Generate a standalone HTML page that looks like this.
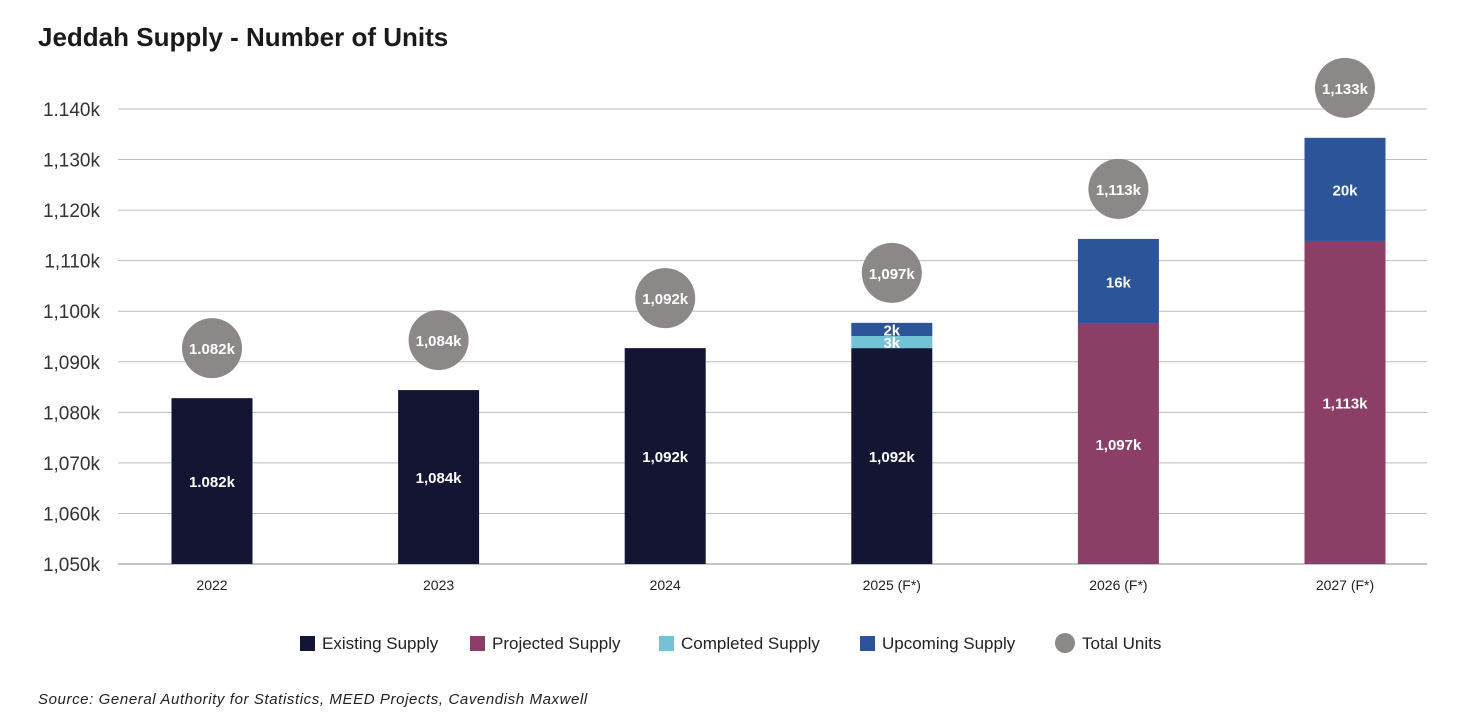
<!DOCTYPE html>
<html><head><meta charset="utf-8">
<style>
body{margin:0;background:#fff;font-family:"Liberation Sans",sans-serif;}
#wrap{position:relative;width:1466px;height:716px;overflow:hidden;}
</style></head>
<body>
<div id="wrap">
<svg id="chart" width="1466" height="716">
<text x="38" y="46" font-size="26" font-weight="bold" fill="#1a1a1a">Jeddah Supply - Number of Units</text>
<text x="38" y="704" font-size="15" font-style="italic" fill="#222" letter-spacing="0.6">Source: General Authority for Statistics, MEED Projects, Cavendish Maxwell</text>
</svg>
</div>
<script>
const categories=["2022","2023","2024","2025 (F*)","2026 (F*)","2027 (F*)"];
const existing=[1082.8,1084.4,1092.7,1092.7,0,0];
const projected=[0,0,0,0,1097.5,1113.9];
const completed=[0,0,0,2.4,0,0];
const upcoming=[0,0,0,2.6,16.8,20.4];
const existingLabels=["1.082k","1,084k","1,092k","1,092k","",""];
const projectedLabels=["","","","","1,097k","1,113k"];
const completedLabels=["","","","3k","",""];
const upcomingLabels=["","","","2k","16k","20k"];
const totalLabels=["1.082k","1,084k","1,092k","1,097k","1,113k","1,133k"];
const yTicks=[1050,1060,1070,1080,1090,1100,1110,1120,1130,1140];
const yTickLabels=["1,050k","1,060k","1,070k","1,080k","1,090k","1,100k","1,110k","1,120k","1,130k","1.140k"];
const colors={existing:"#141433",projected:"#8b3f66",completed:"#74c3d5",upcoming:"#2b5499",total:"#8c8888"};

const svg=document.getElementById('chart');
const NS="http://www.w3.org/2000/svg";
const yMin=1050,yMax=1140,y0=564,y1=109,xL=118,xR=1427;
const y=v=>y0-(v-yMin)/(yMax-yMin)*(y0-y1);
const xc=i=>212+i*226.6;
const bw=81;
function mk(tag,attrs,txt){const e=document.createElementNS(NS,tag);for(const k in attrs)e.setAttribute(k,attrs[k]);if(txt!==undefined)e.textContent=txt;svg.appendChild(e);return e;}

yTicks.forEach((t,i)=>{
 const l=mk('line',{x1:xL,x2:xR,y1:y(t),y2:y(t),stroke:i===0?'#888':'#bdbdbd','stroke-width':1});
 
 
 const tx=mk('text',{x:100,y:y(t)+7,'font-size':19,'text-anchor':'end',fill:'#333'},yTickLabels[i]);
 
 
});

function seg(i,base,top,color,label,name){
 const r=mk('rect',{x:xc(i)-bw/2,y:y(top),width:bw,height:y(base)-y(top),fill:color});
 
 
 if(label){
  const t=mk('text',{x:xc(i),y:(y(base)+y(top))/2+6,'font-size':15,'font-weight':'bold','text-anchor':'middle',fill:'#fff'},label);
  
  
 }
}
categories.forEach((c,i)=>{
 let base=yMin,top;
 if(existing[i]>0){top=existing[i];seg(i,base,top,colors.existing,existingLabels[i],'bar-existing');base=top;}
 if(projected[i]>0){top=projected[i];seg(i,base,top,colors.projected,projectedLabels[i],'bar-projected');base=top;}
 if(completed[i]>0){top=base+completed[i];seg(i,base,top,colors.completed,completedLabels[i],'bar-completed');base=top;}
 if(upcoming[i]>0){top=base+upcoming[i];seg(i,base,top,colors.upcoming,upcomingLabels[i],'bar-upcoming');base=top;}
 const cy=y(base)-50;
 const ci=mk('circle',{cx:xc(i),cy:cy,r:30,fill:colors.total});
 
 
 const tl=mk('text',{x:xc(i),y:cy+6,'font-size':15,'font-weight':'bold','text-anchor':'middle',fill:'#fff'},totalLabels[i]);
 
 
 const xl=mk('text',{x:xc(i),y:590,'font-size':14,'text-anchor':'middle',fill:'#222'},c);
 
 
});

const legend=[["Existing Supply",colors.existing,300,'rect'],["Projected Supply",colors.projected,470,'rect'],["Completed Supply",colors.completed,659,'rect'],["Upcoming Supply",colors.upcoming,860,'rect'],["Total Units",colors.total,1057,'circle']];
legend.forEach(([n,c,x,s])=>{
 let m;
 if(s==='rect')m=mk('rect',{x:x,y:636,width:15,height:15,fill:c});
 else m=mk('circle',{cx:x+8,cy:643,r:10,fill:c});
 
 
 const t=mk('text',{x:x+(s==='rect'?22:25),y:649,'font-size':17,fill:'#222'},n);
 
 
});
</script>
</body></html>
